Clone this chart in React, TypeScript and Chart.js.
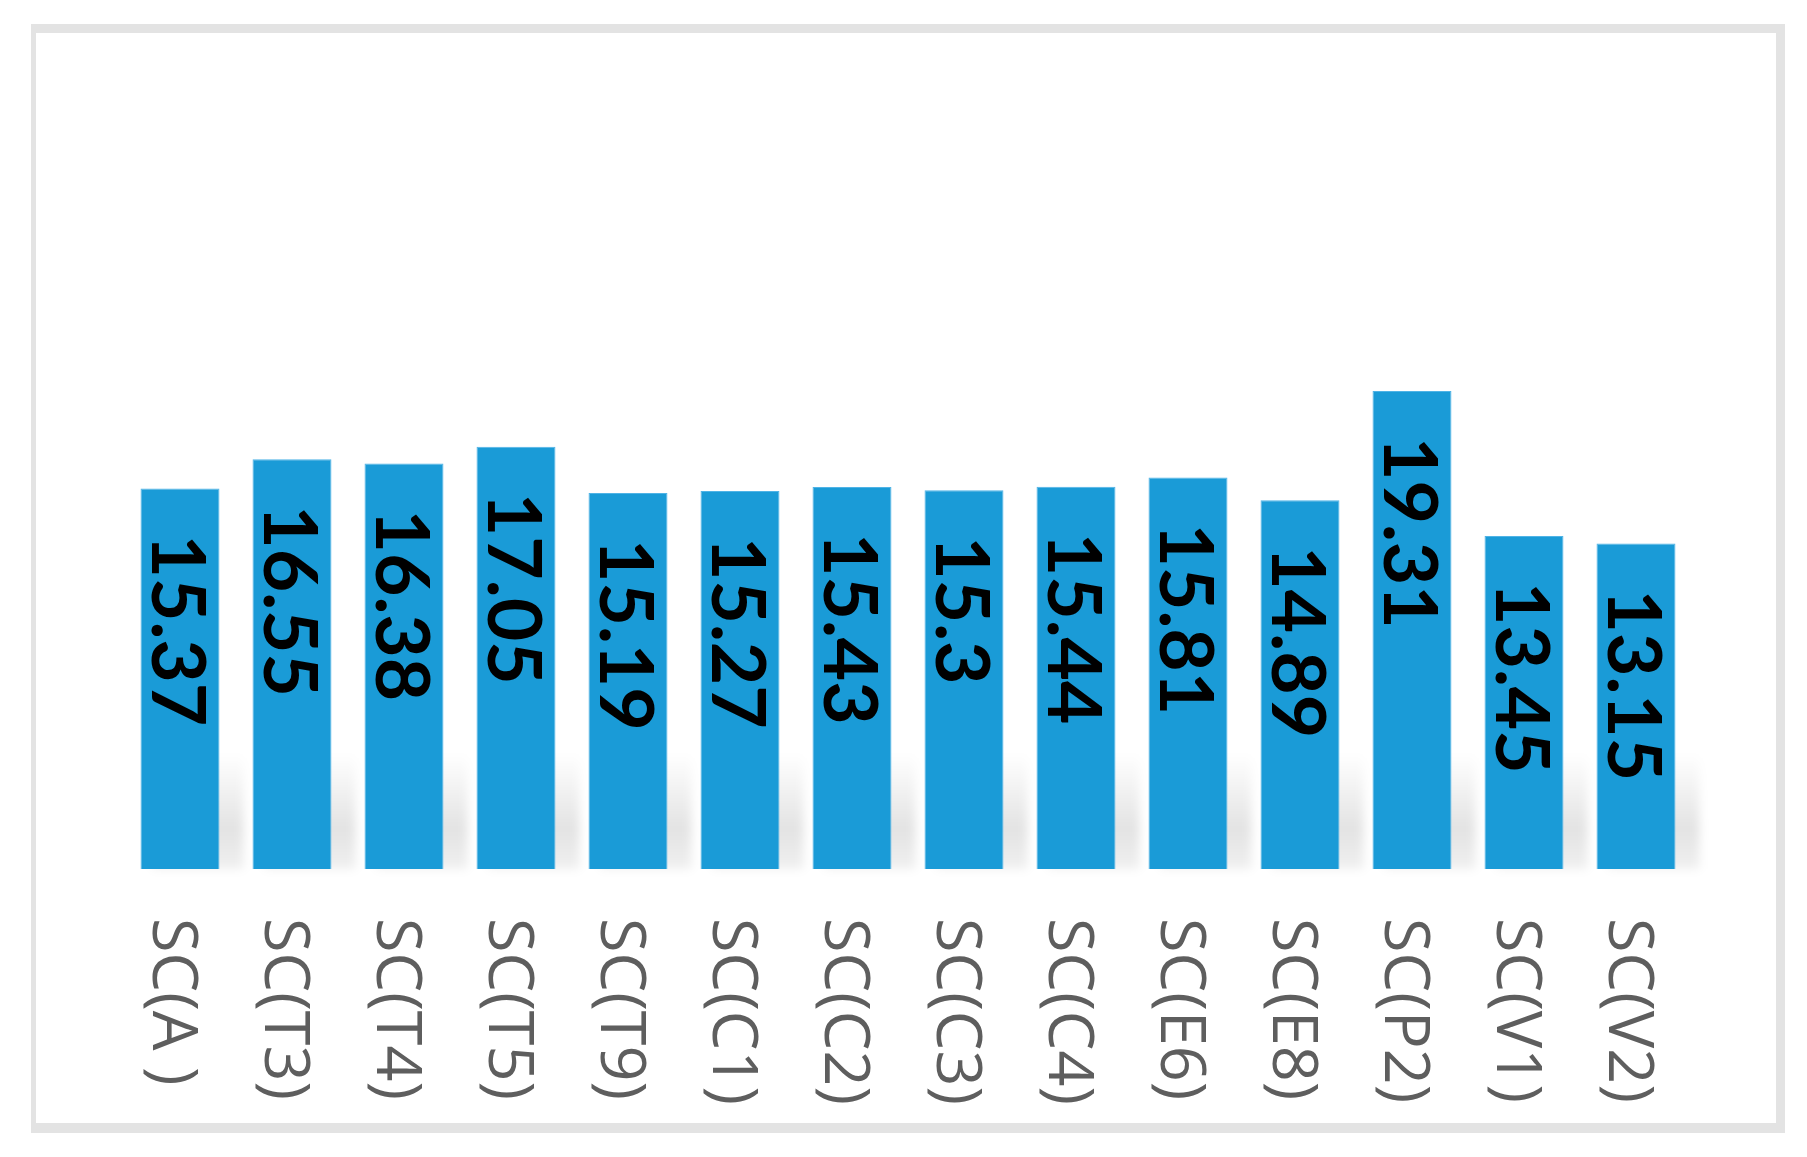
import React, { useEffect, useRef } from "react";
import { Chart, registerables } from "chart.js";

Chart.register(...registerables);

const categories = [
  "SC(A )", "SC(T3)", "SC(T4)", "SC(T5)", "SC(T9)", "SC(C1)", "SC(C2)",
  "SC(C3)", "SC(C4)", "SC(E6)", "SC(E8)", "SC(P2)", "SC(V1)", "SC(V2)",
];
const values = [15.37, 16.55, 16.38, 17.05, 15.19, 15.27, 15.43, 15.3, 15.44, 15.81, 14.89, 19.31, 13.45, 13.15];
const yMin = 0;
const yMax = 25;

const framePlugin = {
  id: "frame",
  beforeDraw(chart: any) {
    const ctx = chart.ctx;
    ctx.save();
    ctx.fillStyle = "#ffffff";
    ctx.fillRect(0, 0, chart.width, chart.height);
    ctx.fillStyle = "#e3e3e3";
    ctx.fillRect(31, 24, 1754, 9);
    ctx.fillRect(31, 24, 5, 1109);
    ctx.fillRect(1776, 24, 9, 1109);
    ctx.fillRect(31, 1123, 1754, 10);
    ctx.restore();
  },
};

const shadowPlugin = {
  id: "barShadow",
  beforeDatasetsDraw(chart: any) {
    const ctx = chart.ctx;
    const meta = chart.getDatasetMeta(0);
    ctx.save();
    ctx.filter = "blur(5px)";
    meta.data.forEach((bar: any) => {
      const left = bar.x - bar.width / 2;
      const base = bar.base;
      const h = 115;
      const g = ctx.createLinearGradient(0, base - h, 0, base);
      g.addColorStop(0, "rgba(0,0,0,0)");
      g.addColorStop(0.65, "rgba(0,0,0,0.11)");
      g.addColorStop(1, "rgba(0,0,0,0.06)");
      ctx.fillStyle = g;
      ctx.fillRect(left + 12, base - h, bar.width + 12, h);
    });
    ctx.restore();
  },
};

const labelsPlugin = {
  id: "rotLabels",
  afterDatasetsDraw(chart: any) {
    const ctx = chart.ctx;
    const meta = chart.getDatasetMeta(0);
    const xScale = chart.scales.x;
    ctx.save();
    // value labels inside bars
    ctx.fillStyle = "#000000";
    ctx.font = "bold 75px Lato, 'Open Sans', sans-serif";
    ctx.textAlign = "left";
    ctx.textBaseline = "middle";
    meta.data.forEach((bar: any, i: number) => {
      ctx.save();
      ctx.translate(bar.x - 4, bar.y + 46);
      ctx.rotate(Math.PI / 2);
      ctx.fillText(String(values[i]), 0, 0);
      ctx.restore();
    });
    // category labels
    ctx.fillStyle = "#5e5e5e";
    ctx.font = "400 63px 'Open Sans', sans-serif";
    categories.forEach((c, i) => {
      const x = xScale.getPixelForValue(i);
      ctx.save();
      ctx.translate(x - 9, 918);
      ctx.rotate(Math.PI / 2);
      ctx.fillText(c, 0, 0);
      ctx.restore();
    });
    ctx.restore();
  },
};

export default function App() {
  const ref = useRef<HTMLCanvasElement | null>(null);
  useEffect(() => {
    if (!ref.current) return;
    const chart = new Chart(ref.current, {
      type: "bar",
      data: {
        labels: categories,
        datasets: [
          {
            data: values,
            backgroundColor: "#1a9bd7",
            borderColor: "#4fb3e6",
            borderWidth: 1,
            categoryPercentage: 1,
            barPercentage: 0.705,
          },
        ],
      },
      options: {
        responsive: false,
        animation: false,
        layout: { padding: { left: 124, right: 115, top: 250, bottom: 288 } },
        plugins: { legend: { display: false }, tooltip: { enabled: false } },
        scales: {
          x: { display: false },
          y: { display: false, min: yMin, max: yMax },
        },
      },
      plugins: [framePlugin, shadowPlugin, labelsPlugin],
    });
    return () => chart.destroy();
  }, []);
  return (
    <div style={{ position: "absolute", left: 0, top: 0, width: 1807, height: 1157 }}>
      <canvas ref={ref} width={1807} height={1157} />
    </div>
  );
}
